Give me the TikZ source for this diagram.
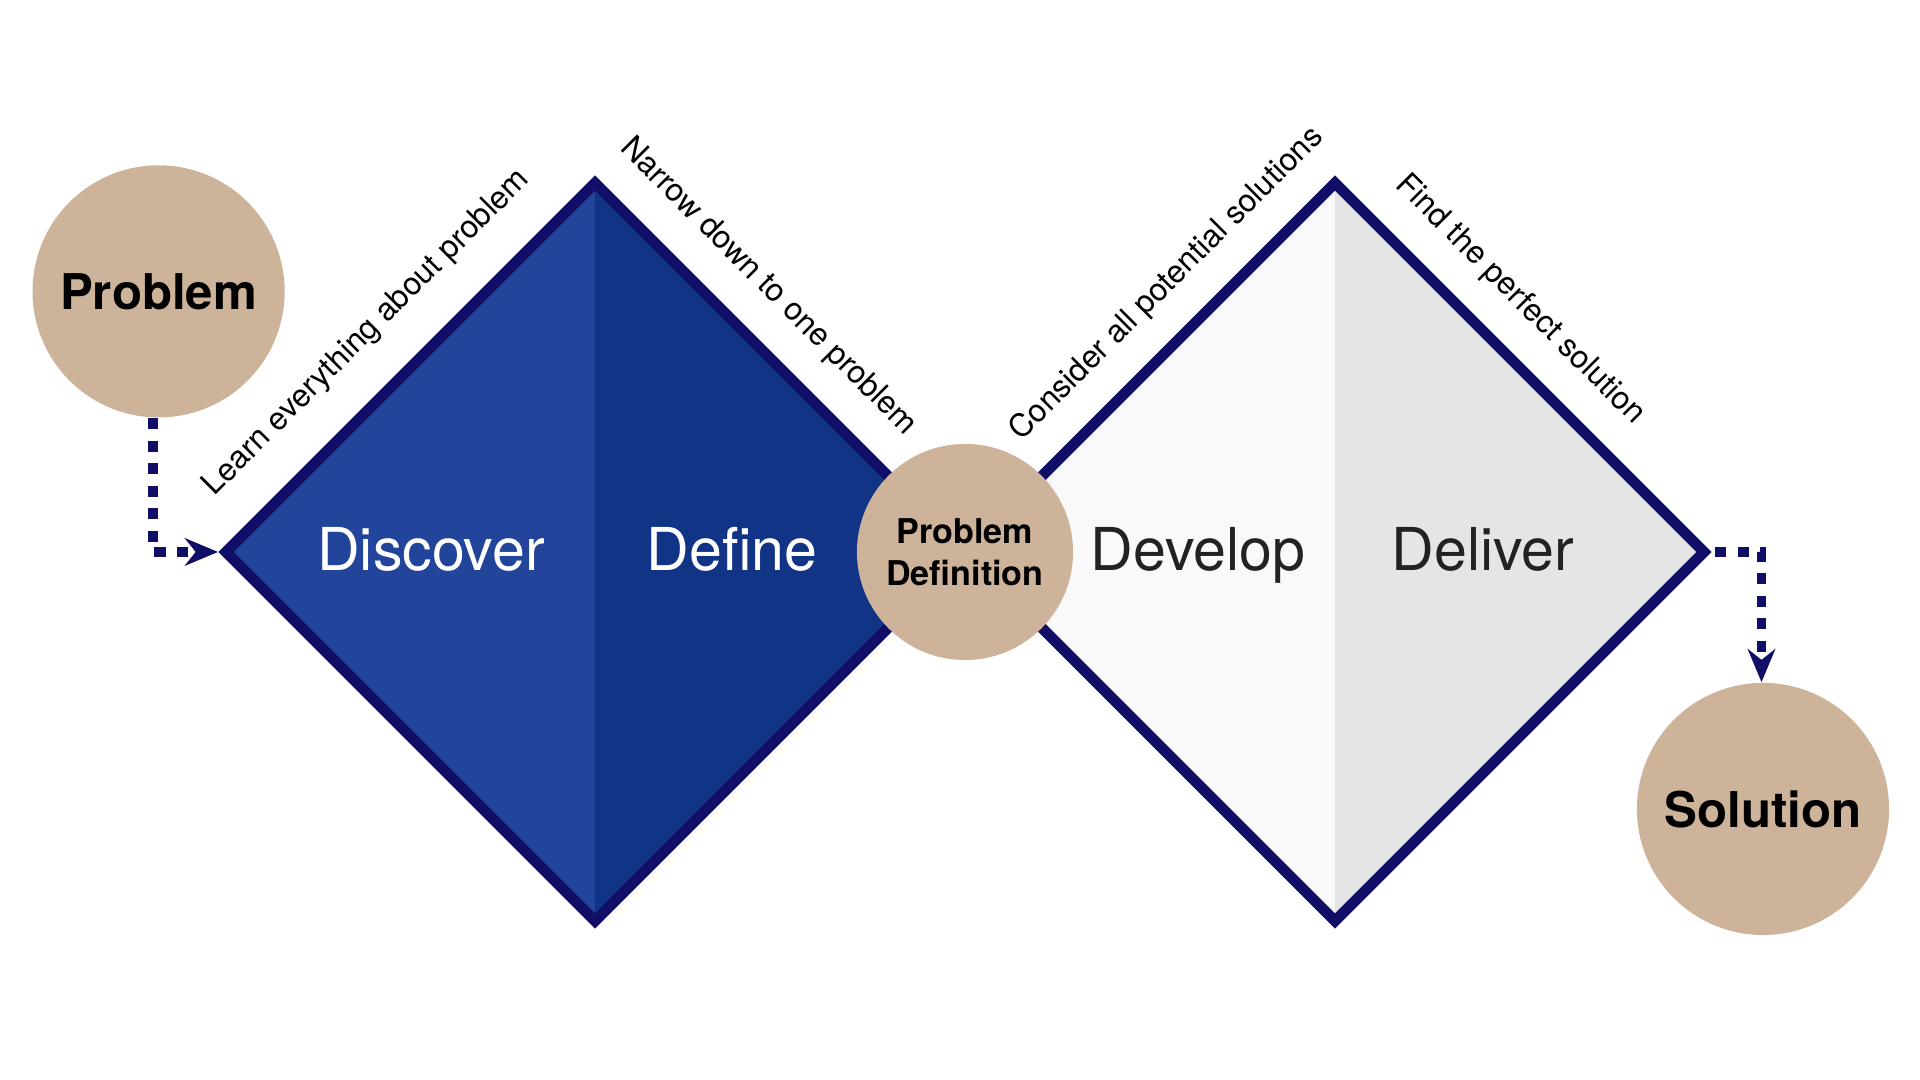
\documentclass[tikz,border=0pt]{standalone}
\usepackage{fontspec}
\setmainfont{TeX Gyre Heros}
\usepackage{tikz}
\usetikzlibrary{arrows.meta, positioning}

\definecolor{navy}{RGB}{17,14,104}
\definecolor{blueL}{RGB}{34,68,154}
\definecolor{blueR}{RGB}{18,52,134}
\definecolor{greyL}{RGB}{249,249,249}
\definecolor{greyR}{RGB}{229,229,229}
\definecolor{tan}{RGB}{205,179,153}
\definecolor{ink}{RGB}{34,34,34}

\begin{document}
\begin{tikzpicture}[
    x=0.01cm, y=0.01cm,
    stage/.style={anchor=base, font=\fontsize{16.8}{20}\selectfont},
    hint/.style={inner sep=0pt, font=\fontsize{9}{11}\selectfont},
    blob/.style={circle, fill=tan, align=center, inner sep=0pt,
      minimum size=2.52cm, font=\fontsize{14}{17}\selectfont\bfseries},
    edge/.style={draw=navy, line width=3.1pt, line join=miter},
    flow/.style={draw=navy, line width=2.8pt, dash pattern=on 3.2pt off 3.2pt,
      -{Stealth[length=9.4pt, width=7.8pt]}}
]
\useasboundingbox (0,0) rectangle (1920,1080);

% corners of the two diamonds
\coordinate (d1w) at (226,528);
\coordinate (d1n) at (595,897);
\coordinate (d1e) at (964,528);
\coordinate (d1s) at (595,159);
\coordinate (d2w) at (966,528);
\coordinate (d2n) at (1335,897);
\coordinate (d2e) at (1704,528);
\coordinate (d2s) at (1335,159);

% first diamond
\fill[blueL] (d1w) -- (d1n) -- (d1s) -- cycle;
\fill[blueR] (d1n) -- (d1e) -- (d1s) -- cycle;
\draw[edge] (d1w) -- (d1n) -- (d1e) -- (d1s) -- cycle;

% second diamond
\fill[greyL] (d2w) -- (d2n) -- (d2s) -- cycle;
\fill[greyR] (d2n) -- (d2e) -- (d2s) -- cycle;
\draw[edge] (d2w) -- (d2n) -- (d2e) -- (d2s) -- cycle;

\node[stage, text=white] (discover) at (431,509) {Discover};
\node[stage, text=white] (define) at (732,509) {Define};
\node[stage, text=ink] (develop) at (1198,509) {Develop};
\node[stage, text=ink] (deliver) at (1483,509) {Deliver};

\node[blob] (problem) at (158.6,788.6) {Problem};
\node[blob, minimum size=2.16cm,
  font=\fontsize{9.7}{11.8}\selectfont\bfseries] (definition) at (965,528) {Problem\\Definition};
\node[blob] (solution) at (1763,271) {Solution};

\node[hint, rotate=45] (learn) at (367,747) {Learn everything about problem};
\node[hint, rotate=-45] (narrow) at (768,793) {Narrow down to one problem};
\node[hint, rotate=45] (consider) at (1167,796) {Consider all potential solutions};
\node[hint, rotate=-45] (find) at (1520,780) {Find the perfect solution};

\coordinate (in) at (218,528);
\coordinate (out) at (1715,528);
\draw[flow] ([xshift=-0.055cm]problem.south) |- (in);
\draw[flow] (out) -| ([xshift=-0.015cm]solution.north);
\end{tikzpicture}
\end{document}
